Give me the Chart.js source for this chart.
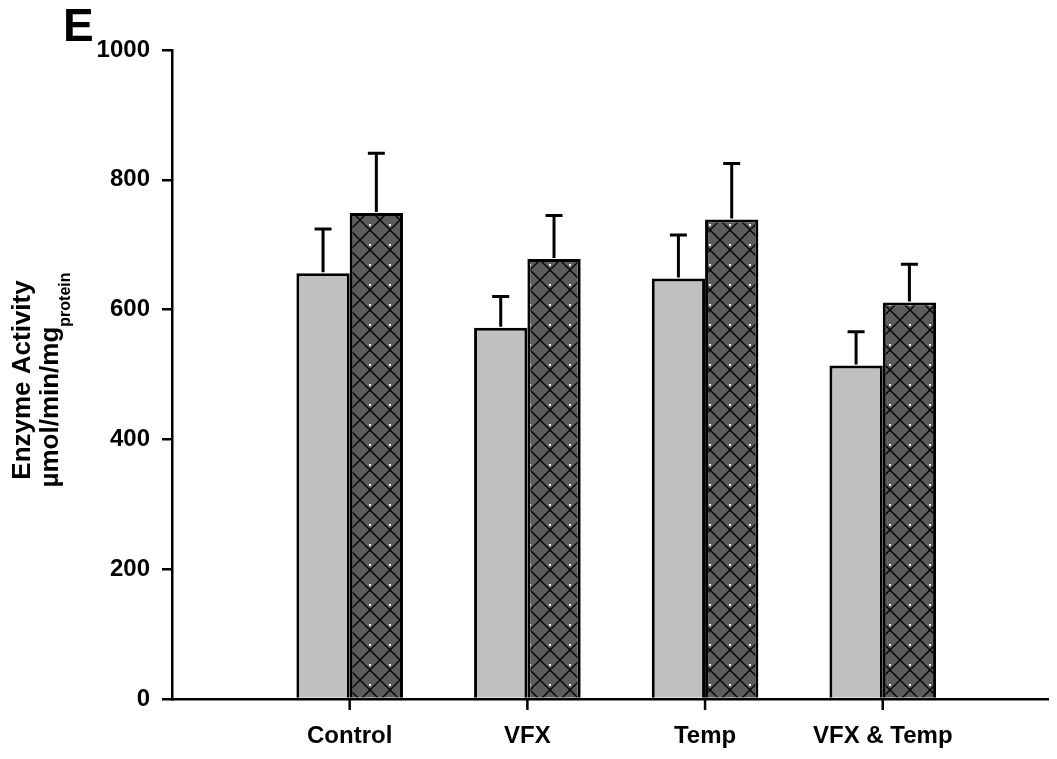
<!DOCTYPE html>
<html>
<head>
<meta charset="utf-8">
<script src="https://cdn.jsdelivr.net/npm/chart.js@4"></script>
<style>
  html, body { margin: 0; padding: 0; background: #fff; }
  #wrap { width: 1057px; height: 759px; position: relative; }
</style>
</head>
<body>
<div id="wrap"><canvas id="chart"></canvas></div>
<script>
const categories = ["Control", "VFX", "Temp", "VFX & Temp"];
const lightValues = [656, 572, 648, 514];
const lightErrors = [68, 48, 67, 52];
const darkValues = [749, 678, 739, 611];
const darkErrors = [92, 67, 86, 59];
const yTicks = [0, 200, 400, 600, 800, 1000];

const FONT = "Liberation Sans, Arial, sans-serif";

// hatched fill for the second series
function makePattern() {
  const c = document.createElement("canvas");
  c.width = 20;
  c.height = 20;
  const g = c.getContext("2d");
  g.fillStyle = "#5c5c5c";
  g.fillRect(0, 0, 20, 20);
  g.strokeStyle = "#000";
  g.lineWidth = 1.4;
  g.beginPath();
  g.moveTo(0, 20); g.lineTo(20, 0);
  g.moveTo(-10, 10); g.lineTo(10, -10);
  g.moveTo(10, 30); g.lineTo(30, 10);
  g.moveTo(0, 0); g.lineTo(20, 20);
  g.moveTo(-10, 10); g.lineTo(10, 30);
  g.moveTo(10, -10); g.lineTo(30, 10);
  g.stroke();
  g.fillStyle = "#fff";
  g.fillRect(9, 4, 2, 2);
  return g.createPattern(c, "repeat");
}

const errors = [lightErrors, darkErrors];

const errorBars = {
  id: "errorBars",
  afterDatasetsDraw(chart) {
    const ctx = chart.ctx;
    const y = chart.scales.y;
    ctx.save();
    ctx.strokeStyle = "#000";
    ctx.lineWidth = 3;
    chart.data.datasets.forEach((ds, di) => {
      const meta = chart.getDatasetMeta(di);
      meta.data.forEach((bar, i) => {
        const top = y.getPixelForValue(ds.data[i].y + errors[di][i]);
        ctx.beginPath();
        ctx.moveTo(bar.x, bar.y - 1);
        ctx.lineTo(bar.x, top);
        ctx.moveTo(bar.x - 8.5, top);
        ctx.lineTo(bar.x + 8.5, top);
        ctx.stroke();
      });
    });
    ctx.restore();
  }
};

const extraText = {
  id: "extraText",
  afterDraw(chart) {
    const ctx = chart.ctx;
    const base = chart.scales.y.getPixelForValue(0);
    const m0 = chart.getDatasetMeta(0).data;
    const m1 = chart.getDatasetMeta(1).data;
    ctx.save();
    // category tick marks below the x axis
    ctx.fillStyle = "#000";
    m0.forEach((bar, i) => {
      const px = (bar.x + m1[i].x) / 2;
      ctx.fillRect(px - 1.25, base, 2.5, 11);
    });

    ctx.font = "bold 46px " + FONT;
    ctx.textBaseline = "alphabetic";
    ctx.fillText("E", 63, 41);

    // rotated y title with subscript
    ctx.translate(0, 380);
    ctx.rotate(-Math.PI / 2);
    ctx.font = "bold 26px " + FONT;
    ctx.textAlign = "center";
    ctx.fillText("Enzyme Activity", 0, 30);
    const main = "µmol/min/mg";
    const sub = "protein";
    const w1 = ctx.measureText(main).width;
    ctx.font = "bold 16px " + FONT;
    const w2 = ctx.measureText(sub).width;
    const start = -(w1 + w2) / 2;
    ctx.textAlign = "left";
    ctx.font = "bold 26px " + FONT;
    ctx.fillText(main, start, 58);
    ctx.font = "bold 16px " + FONT;
    ctx.fillText(sub, start + w1, 70);
    ctx.restore();
  }
};

new Chart(document.getElementById("chart"), {
  type: "bar",
  data: {
    datasets: [
      {
        label: "light",
        data: lightValues.map((v, i) => ({ x: i + 1, y: v })),
        backgroundColor: "#c0c0c0",
        borderColor: "#000",
        borderWidth: 3,
      },
      {
        label: "dark",
        data: darkValues.map((v, i) => ({ x: i + 1, y: v })),
        backgroundColor: makePattern(),
        borderColor: "#000",
        borderWidth: 3,
      },
    ],
  },
  options: {
    responsive: true,
    maintainAspectRatio: false,
    animation: false,
    categoryPercentage: 0.6,
    barPercentage: 1.0,
    layout: { padding: { top: 50, right: 9, left: 0, bottom: 0 } },
    plugins: {
      legend: { display: false },
      tooltip: { enabled: false },
    },
    scales: {
      x: {
        type: "linear",
        offset: false,
        min: 0,
        max: 4.93,
        afterBuildTicks: (scale) => {
          scale.ticks = categories.map((c, i) => ({ value: i + 1 }));
        },
        afterFit: (scale) => { scale.height = 60; },
        ticks: {
          callback: (v) => categories[v - 1] || "",
          color: "#000",
          font: { family: FONT, size: 24, weight: "bold" },
          padding: 13,
          maxRotation: 0,
          autoSkip: false,
        },
        grid: {
          display: false,
          tickLength: 10,
        },
        border: { display: true, color: "#000", width: 2.5 },
      },
      y: {
        min: 0,
        max: 1000,
        afterBuildTicks: (scale) => {
          scale.ticks = yTicks.map((v) => ({ value: v }));
        },
        afterFit: (scale) => { scale.width = 172; },
        ticks: {
          callback: (v) => String(v),
          color: "#000",
          font: { family: FONT, size: 24, weight: "bold" },
          padding: 12,
        },
        grid: {
          drawOnChartArea: false,
          drawTicks: true,
          tickLength: 10,
          color: "#000",
          lineWidth: 2.5,
        },
        border: { display: true, color: "#000", width: 2.5 },
      },
    },
  },
  plugins: [errorBars, extraText],
});
</script>
</body>
</html>
